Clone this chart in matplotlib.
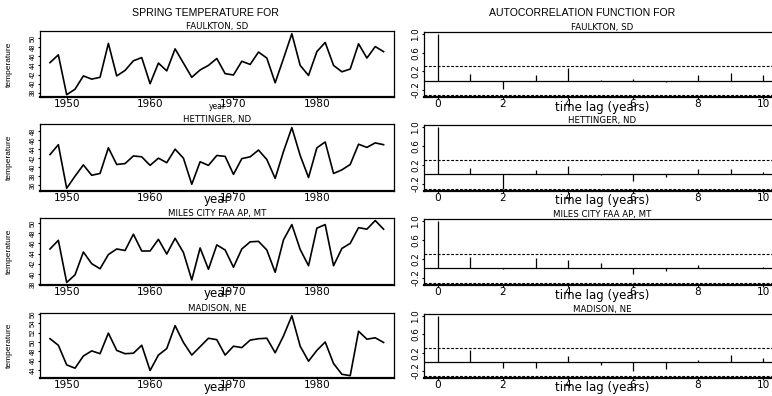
import matplotlib
matplotlib.use("Agg")
import matplotlib.pyplot as plt

# ---------------- data ----------------
years = list(range(1948, 1989))
stations = ["FAULKTON, SD", "HETTINGER, ND", "MILES CITY FAA AP, MT", "MADISON, NE"]

faulkton = [44.6, 46.3, 37.6, 38.8, 41.7, 41.0, 41.4, 48.8, 41.7, 42.9,
            45.0, 45.7, 40.0, 44.5, 42.8, 47.6, 44.5, 41.4, 43.0, 44.0,
            45.5, 42.2, 41.9, 44.9, 44.2, 46.9, 45.6, 40.2, 45.5, 50.9,
            44.0, 41.8, 47.0, 49.0, 44.0, 42.6, 43.2, 48.7, 45.6, 48.1, 47.0]
hettinger = [42.8, 45.0, 35.3, 38.0, 40.5, 38.2, 38.6, 44.3, 40.6, 40.8,
             42.5, 42.3, 40.4, 42.0, 41.0, 44.0, 42.0, 36.2, 41.2, 40.4,
             42.6, 42.4, 38.4, 41.9, 42.3, 43.8, 41.7, 37.5, 43.5, 48.8,
             42.6, 37.7, 44.3, 45.6, 38.6, 39.4, 40.6, 45.1, 44.4, 45.4, 45.0]
miles_city = [44.9, 46.6, 38.3, 39.8, 44.3, 42.0, 41.0, 43.8, 44.9, 44.6,
              47.8, 44.5, 44.5, 46.8, 43.9, 47.0, 44.2, 38.8, 45.1, 40.9,
              45.7, 44.7, 41.3, 44.9, 46.3, 46.4, 44.7, 40.3, 46.7, 49.7,
              44.8, 41.6, 49.0, 49.7, 41.6, 45.0, 46.0, 49.1, 48.8, 50.5, 48.8]
madison = [50.7, 49.3, 45.1, 44.4, 47.0, 48.1, 47.5, 51.9, 48.2, 47.5,
           47.6, 49.3, 43.9, 47.2, 48.6, 53.5, 49.9, 47.2, 49.0, 50.8,
           50.5, 47.2, 49.1, 48.8, 50.4, 50.7, 50.8, 47.7, 51.3, 55.6,
           49.1, 45.9, 48.2, 50.0, 45.4, 43.1, 42.8, 52.3, 50.6, 50.9, 49.9]

lags = list(range(0, 11))
acf_faulkton = [1.0, 0.15, -0.19, 0.12, 0.27, 0.01, 0.03, -0.04, 0.12, 0.17, 0.13]
acf_hettinger = [1.0, 0.13, -0.31, 0.09, 0.18, -0.01, -0.14, -0.06, 0.12, 0.12, 0.04]
acf_miles_city = [1.0, 0.25, -0.01, 0.23, 0.17, 0.12, -0.12, -0.06, 0.07, 0.01, 0.02]
acf_madison = [1.0, 0.26, -0.14, -0.14, 0.12, -0.06, -0.20, -0.15, 0.05, 0.16, 0.08]
conf_band = 0.31

temps = [faulkton, hettinger, miles_city, madison]
acfs = [acf_faulkton, acf_hettinger, acf_miles_city, acf_madison]
temp_ylims = [(37.1, 51.5), (34.7, 49.6), (37.8, 51.0), (42.3, 56.2)]
temp_yticks = [list(range(38, 51, 2)), list(range(36, 49, 2)),
               list(range(38, 51, 2)), list(range(44, 57, 2))]
year_ticks = [1950, 1960, 1970, 1980]
lag_ticks = [0, 2, 4, 6, 8, 10]
acf_yticks = [-0.2, 0.2, 0.6, 1.0]
acf_yticklabels = ["-0.2", "0.2", "0.6", "1.0"]

# ---------------- layout ----------------
W, H = 772, 396
fig = plt.figure(figsize=(W / 100, H / 100), dpi=100)
rows = [(31, 97), (124, 191), (218, 285), (313, 378)]
LX0, LX1 = 40, 394
RX0, RX1 = 424, 780

def rect(x0, x1, top, bot):
    return [x0 / W, 1 - bot / H, (x1 - x0) / W, (bot - top) / H]

SANS = ["Liberation Sans", "DejaVu Sans"]
WIDE = ["DejaVu Sans"]

fig.text(205 / W, 1 - 13 / H, "SPRING TEMPERATURE FOR", ha="center", va="center",
         fontsize=7.6, family=SANS)
fig.text(582 / W, 1 - 13 / H, "AUTOCORRELATION FUNCTION FOR", ha="center", va="center",
         fontsize=7.6, family=SANS)

for i, (top, bot) in enumerate(rows):
    hpx = bot - top
    # --- temperature series ---
    ax = fig.add_axes(rect(LX0, LX1, top, bot))
    ax.plot(years, temps[i], color="black", lw=1.2)
    ax.set_xlim(1946.8, 1989.25)
    ax.set_ylim(*temp_ylims[i])
    ax.set_xticks(year_ticks)
    ax.set_xticklabels([str(y) for y in year_ticks], family=WIDE, fontsize=7.6)
    ax.set_yticks(temp_yticks[i])
    ax.set_yticklabels([str(v) for v in temp_yticks[i]], rotation=90, va="center",
                       family=SANS, fontsize=4.8)
    ax.tick_params(axis="both", direction="out", length=1.5, width=0.8, pad=1)
    ax.tick_params(axis="x", pad=0)
    for s in ax.spines.values():
        s.set_linewidth(0.9)
    ax.spines["bottom"].set_linewidth(1.6)
    ax.set_ylabel("temperature", family=SANS, fontsize=6)
    ax.yaxis.set_label_coords(-(LX0 - 13) / (LX1 - LX0), 0.5)
    if i == 0:
        ax.set_xlabel("year", family=WIDE, fontsize=5.5, va="baseline")
        ax.xaxis.set_label_coords(0.5, -12 / hpx)
    else:
        ax.set_xlabel("year", family=WIDE, fontsize=8.5, va="baseline")
        ax.xaxis.set_label_coords(0.5, -12.5 / hpx)
    ax.set_title(stations[i], family=WIDE, fontsize=6.2, pad=1.5)

    # --- autocorrelation ---
    ax2 = fig.add_axes(rect(RX0, RX1, top + 1, bot))
    ax2.vlines(lags, 0, acfs[i], color="black", lw=0.9)
    ax2.axhline(0, color="black", lw=0.9)
    ax2.axhline(conf_band, color="black", lw=0.8, ls=(0, (2.5, 1.5)))
    ax2.axhline(-conf_band, color="black", lw=0.8, ls=(0, (2.5, 1.5)))
    ax2.set_xlim(-0.43, 10.52)
    ax2.set_ylim(-0.355, 1.05)
    ax2.set_xticks(lag_ticks)
    ax2.set_xticklabels([str(v) for v in lag_ticks], family=WIDE, fontsize=7.6)
    ax2.set_yticks(acf_yticks)
    ax2.set_yticklabels(acf_yticklabels, rotation=90, va="center", family=WIDE, fontsize=6.3)
    ax2.tick_params(axis="both", direction="out", length=1.5, width=0.8, pad=1)
    ax2.tick_params(axis="x", pad=0)
    for s in ax2.spines.values():
        s.set_linewidth(0.9)
    ax2.spines["bottom"].set_linewidth(1.6)
    ax2.set_xlabel("time lag (years)", family=WIDE, fontsize=8.5, va="baseline")
    ax2.xaxis.set_label_coords(0.5, -13.5 / (hpx - 1))
    ax2.set_title(stations[i], family=WIDE, fontsize=6.2, pad=1.5)

fig.savefig("out.png", dpi=100)
